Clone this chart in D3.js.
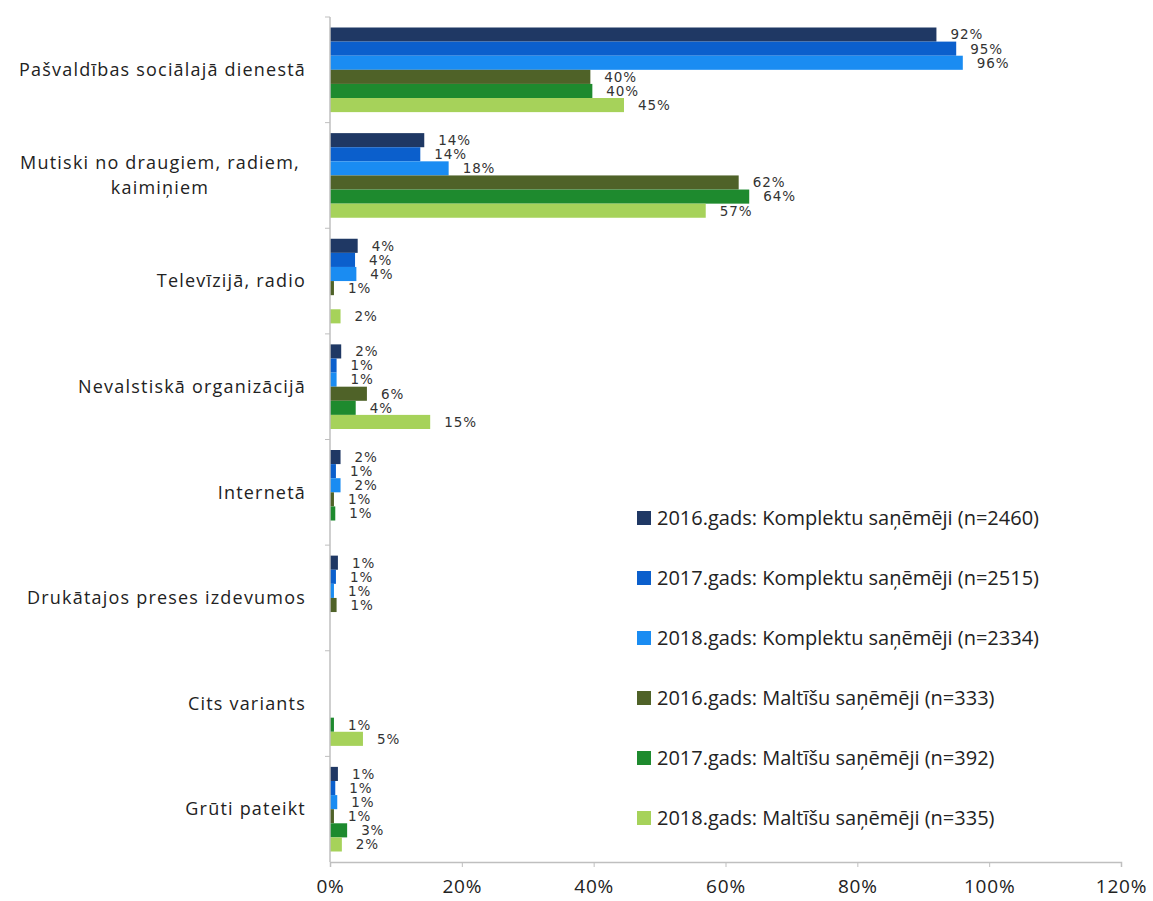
<!DOCTYPE html>
<html>
<head>
<meta charset="utf-8">
<script src="https://cdn.jsdelivr.net/npm/d3@7"></script>
<style>
  body { margin: 0; background: #fff; }
  svg { display: block; }
</style>
</head>
<body>
<svg id="chart" width="1153" height="901"></svg>
<script>
// ---- data ----
const categories = [
  "Pašvaldības sociālajā dienestā",
  "Mutiski no draugiem, radiem, kaimiņiem",
  "Televīzijā, radio",
  "Nevalstiskā organizācijā",
  "Internetā",
  "Drukātajos preses izdevumos",
  "Cits variants",
  "Grūti pateikt"
];
const categoryLines = [
  ["Pašvaldības sociālajā dienestā"],
  ["Mutiski no draugiem, radiem,", "kaimiņiem"],
  ["Televīzijā, radio"],
  ["Nevalstiskā organizācijā"],
  ["Internetā"],
  ["Drukātajos preses izdevumos"],
  ["Cits variants"],
  ["Grūti pateikt"]
];
const seriesNames = [
  "2016.gads: Komplektu saņēmēji (n=2460)",
  "2017.gads: Komplektu saņēmēji (n=2515)",
  "2018.gads: Komplektu saņēmēji (n=2334)",
  "2016.gads: Maltīšu saņēmēji (n=333)",
  "2017.gads: Maltīšu saņēmēji (n=392)",
  "2018.gads: Maltīšu saņēmēji (n=335)"
];
const seriesColors = ["#1f3864", "#0b5fcc", "#1a8cf2", "#4f6228", "#1e8a2e", "#a6d25a"];
// values in %, one array per series (order follows categories); null = no bar
const komplekti2016 = [92, 14.3, 4.2, 1.7, 1.6, 1.2, null, 1.2];
const komplekti2017 = [95, 13.7, 3.8, 1.0, 0.9, 0.9, null, 0.8];
const komplekti2018 = [96, 18, 4.0, 1.0, 1.6, 0.6, null, 1.1];
const maltites2016  = [39.5, 62, 0.6, 5.6, 0.6, 1.0, null, 0.6];
const maltites2017  = [39.8, 63.6, null, 3.9, 0.8, null, 0.6, 2.6];
const maltites2018  = [44.6, 57, 1.6, 15.2, null, null, 5.0, 1.8];
const seriesValues = [komplekti2016, komplekti2017, komplekti2018, maltites2016, maltites2017, maltites2018];
const xTicks = [0, 20, 40, 60, 80, 100, 120];

// ---- layout ----
const svg = d3.select("#chart");
const plotLeft = 330, plotRight = 1121, plotTop = 17, plotBottom = 862;
const x = d3.scaleLinear().domain([0, 120]).range([plotLeft, plotRight]);
const y0 = d3.scaleBand().domain(categories).range([plotTop, plotBottom]).paddingInner(0).paddingOuter(0);
const bw = y0.bandwidth();
const y1 = d3.scaleBand().domain(d3.range(seriesNames.length)).range([10.5, bw - 10.5]);

// bars
const gBars = svg.append("g");
categories.forEach((cat, ci) => {
  seriesValues.forEach((vals, si) => {
    const v = vals[ci];
    if (v == null) return;
    const yy = y0(cat) + y1(si);
    gBars.append("rect")
      .attr("x", x(0)).attr("y", yy)
      .attr("width", x(v) - x(0)).attr("height", y1.bandwidth())
      .attr("fill", seriesColors[si]);
  });
});

// data labels
categories.forEach((cat, ci) => {
  seriesValues.forEach((vals, si) => {
    const v = vals[ci];
    if (v == null) return;
    const yy = y0(cat) + y1(si) + y1.bandwidth() / 2;
    svg.append("text")
      .attr("x", x(v) + 14).attr("y", yy)
      .attr("dy", "0.36em")
      .attr("font-family", "DejaVu Sans, Verdana, sans-serif")
      .attr("font-size", 13.5)
      .attr("letter-spacing", "0.9px")
      .attr("fill", "#333")
      .text(Math.round(v) + "%");
  });
});

// y axis
const yAxisG = svg.append("g");
yAxisG.append("line").attr("x1", plotLeft).attr("x2", plotLeft).attr("y1", plotTop).attr("y2", plotBottom)
  .attr("stroke", "#bfbfbf").attr("stroke-width", 1.5);
categories.forEach(cat => {
  yAxisG.append("line").attr("x1", plotLeft - 5).attr("x2", plotLeft)
    .attr("y1", y0(cat)).attr("y2", y0(cat)).attr("stroke", "#bfbfbf");
});

// category labels
categories.forEach((cat, ci) => {
  const lines = categoryLines[ci];
  const cy = y0(cat) + bw / 2;
  const lh = 25;
  const multi = lines.length > 1;
  const t = svg.append("text")
    .attr("font-family", "Open Sans, sans-serif")
    .attr("font-size", 18)
    .attr("letter-spacing", "1.2px")
    .attr("fill", "#222")
    .attr("text-anchor", multi ? "middle" : "end");
  lines.forEach((ln, li) => {
    t.append("tspan")
      .attr("x", multi ? 160 : 306)
      .attr("y", cy + (li - (lines.length - 1) / 2) * lh)
      .attr("dy", "0.35em")
      .text(ln);
  });
});

// x axis
const xAxis = d3.axisBottom(x).tickValues(xTicks).tickFormat(d => d + "%").tickSize(5).tickPadding(13);
const gx = svg.append("g").attr("transform", `translate(0,${plotBottom})`).call(xAxis);
gx.select(".domain").attr("stroke", "#bfbfbf").attr("stroke-width", 1.5);
gx.selectAll(".tick line").attr("stroke", "#bfbfbf");
gx.selectAll(".tick text")
  .attr("font-family", "Open Sans, sans-serif")
  .attr("font-size", 19)
  .attr("letter-spacing", "0.8px")
  .attr("fill", "#222");

// legend
const legendY = d3.scalePoint().domain(d3.range(seriesNames.length)).range([518, 818]);
seriesNames.forEach((name, i) => {
  const g = svg.append("g").attr("transform", `translate(637,${legendY(i)})`);
  g.append("rect").attr("x", 0).attr("y", -7).attr("width", 14).attr("height", 14)
    .attr("fill", seriesColors[i]);
  g.append("text").attr("x", 20).attr("y", 0).attr("dy", "0.35em")
    .attr("font-family", "Open Sans, sans-serif")
    .attr("font-size", 20)
    .attr("fill", "#222")
    .text(name);
});
</script>
</body>
</html>
